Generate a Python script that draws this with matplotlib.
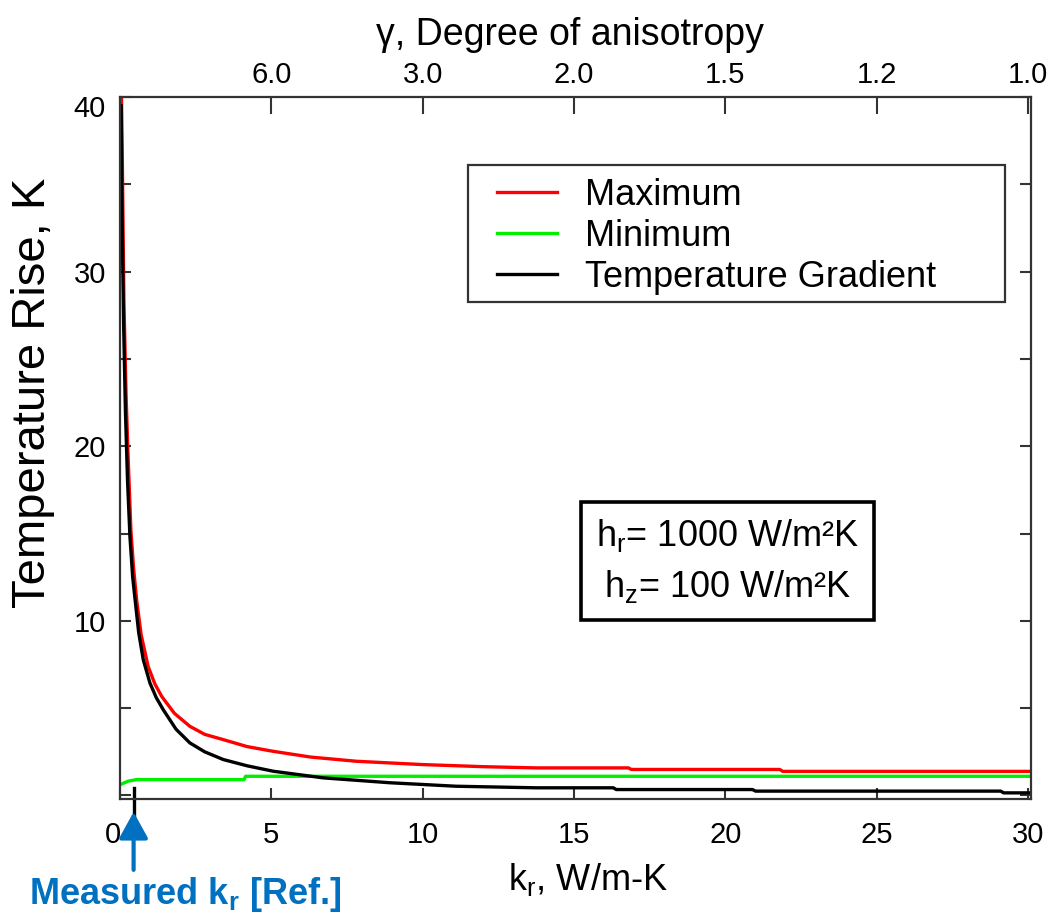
import matplotlib
matplotlib.use("Agg")
import matplotlib.pyplot as plt
import matplotlib.transforms as mtransforms
from matplotlib.patches import Rectangle

plt.rcParams["font.family"] = ["Liberation Sans", "DejaVu Sans"]
plt.rcParams["mathtext.default"] = "regular"

# curves: radial conductivity k_r (W/m-K) vs temperature rise (K)
k_max = [0.05, 0.08, 0.13, 0.20, 0.26, 0.36, 0.45, 0.55, 0.70, 0.93, 1.15, 1.38,
         1.80, 2.31, 2.80, 3.41, 4.20, 5.06, 6.30, 7.81, 10.0, 12.0, 13.75,
         16.8, 16.9, 21.8, 21.9, 30.1]
t_max = [40.0, 36.0, 28.3, 23.0, 19.8, 15.2, 13.0, 11.2, 9.2, 7.39, 6.4, 5.67,
         4.7, 3.96, 3.5, 3.2, 2.8, 2.53, 2.2, 1.96, 1.77, 1.65, 1.58,
         1.58, 1.49, 1.49, 1.38, 1.38]

k_min = [0.02, 0.27, 0.55, 4.10, 4.15, 30.1]
t_min = [0.63, 0.82, 0.91, 0.91, 1.10, 1.10]

k_grad = [0.04, 0.07, 0.12, 0.18, 0.25, 0.33, 0.42, 0.50, 0.62, 0.77, 0.99, 1.20,
          1.43, 1.85, 2.31, 2.80, 3.41, 4.20, 5.06, 6.71, 8.91, 11.1, 13.75,
          16.3, 16.4, 20.9, 21.0, 29.1, 29.2, 30.1]
t_grad = [39.5, 33.0, 27.0, 22.0, 18.0, 14.8, 12.5, 11.2, 9.3, 7.77, 6.44, 5.6,
          4.91, 3.8, 3.01, 2.5, 2.06, 1.7, 1.39, 1.01, 0.73, 0.53, 0.44,
          0.44, 0.34, 0.34, 0.25, 0.25, 0.15, 0.15]

k_ticks = [0, 5, 10, 15, 20, 25, 30]
t_ticks = [0, 5, 10, 15, 20, 25, 30, 35, 40]
t_labels = ["", "", "10", "", "20", "", "30", "", "40"]
gamma_pos = [5, 10, 15, 20, 25, 30]
gamma_labels = ["6.0", "3.0", "2.0", "1.5", "1.2", "1.0"]
k_measured = 0.45

BLUE = "#0070C0"
SPINE = "#333333"

fig = plt.figure(figsize=(10.58, 9.19), dpi=100)
ax = fig.add_axes([0.1134, 0.1306, 0.861, 0.7639])

ax.plot(k_max, t_max, color="#ff0000", lw=2.4, label="Maximum")
ax.plot(k_min, t_min, color="#00ee00", lw=2.4, label="Minimum")
ax.plot(k_grad, t_grad, color="black", lw=2.4, label="Temperature Gradient")

ax.set_xlim(0, 30.1)
ax.set_ylim(-0.2, 40.0)
ax.set_xticks(k_ticks)
ax.set_yticks(t_ticks)
ax.set_yticklabels(t_labels)
ax.tick_params(axis="both", direction="in", length=8, width=1.5, color=SPINE,
               labelsize=21)
ax.tick_params(axis="x", pad=16)
ax.tick_params(axis="y", pad=10, right=True)
for s in ax.spines.values():
    s.set_color(SPINE)
    s.set_linewidth(1.6)

# nudge the "0" away from the arrow and the "40" below the frame
lbl0 = ax.get_xticklabels()[0]
lbl0.set_transform(lbl0.get_transform() +
                   mtransforms.ScaledTranslation(-7 / 100, 0, fig.dpi_scale_trans))
lbl40 = ax.get_yticklabels()[-1]
lbl40.set_transform(lbl40.get_transform() +
                    mtransforms.ScaledTranslation(0, -9 / 100, fig.dpi_scale_trans))

# top axis: degree of anisotropy
top = ax.twiny()
top.set_xlim(ax.get_xlim())
top.set_xticks(gamma_pos)
top.set_xticklabels(gamma_labels)
top.tick_params(axis="x", direction="in", length=12, width=1.5, color=SPINE,
                labelsize=21, pad=6)
for s in top.spines.values():
    s.set_visible(False)

# legend drawn without its own frame; the frame is a separate rectangle
leg = ax.legend(loc="upper left", bbox_to_anchor=(0.4138, 0.885),
                borderaxespad=0, borderpad=0, fontsize=26, frameon=False,
                handlelength=1.67, handletextpad=0.78, labelspacing=0.17)
ax.add_patch(Rectangle((0.382, 0.708), 0.5895, 0.195, transform=ax.transAxes,
                       facecolor="none", edgecolor=SPINE, lw=1.6, zorder=5))

ax.text(0.667, 0.339, "h$_{r}$= 1000 W/m²K\nh$_{z}$= 100 W/m²K",
        transform=ax.transAxes, ha="center", va="center", fontsize=26,
        linespacing=1.45,
        bbox=dict(boxstyle="square,pad=0.42", facecolor="white",
                  edgecolor="black", linewidth=2.6))

# measured k_r marker
xt = ax.get_xaxis_transform()
ax.plot([k_measured, k_measured], [0.016, -0.033], color="black", lw=2.4,
        transform=xt, clip_on=False)
ax.annotate("", xy=(k_measured, -0.0185), xycoords=xt,
            xytext=(k_measured, -0.101), textcoords=xt,
            arrowprops=dict(arrowstyle="-|>,head_length=1.0,head_width=0.55",
                            mutation_scale=16, color=BLUE, lw=3,
                            shrinkA=0, shrinkB=0))
fig.text(29 / 1058, 1 - 894 / 919, "Measured k$_{r}$ [Ref.]", color=BLUE,
         fontsize=26, fontweight="bold", ha="left", va="center")

fig.text(588 / 1058, 1 - 880 / 919, "k$_{r}$, W/m-K", fontsize=26,
         ha="center", va="center")
fig.text(33 / 1058, 1 - 393 / 919, "Temperature Rise, K", fontsize=34,
         rotation=90, ha="center", va="center")
fig.text(570 / 1058, 1 - 35 / 919, "γ, Degree of anisotropy", fontsize=27,
         ha="center", va="center")

fig.savefig("out.png", dpi=100, facecolor="white")
